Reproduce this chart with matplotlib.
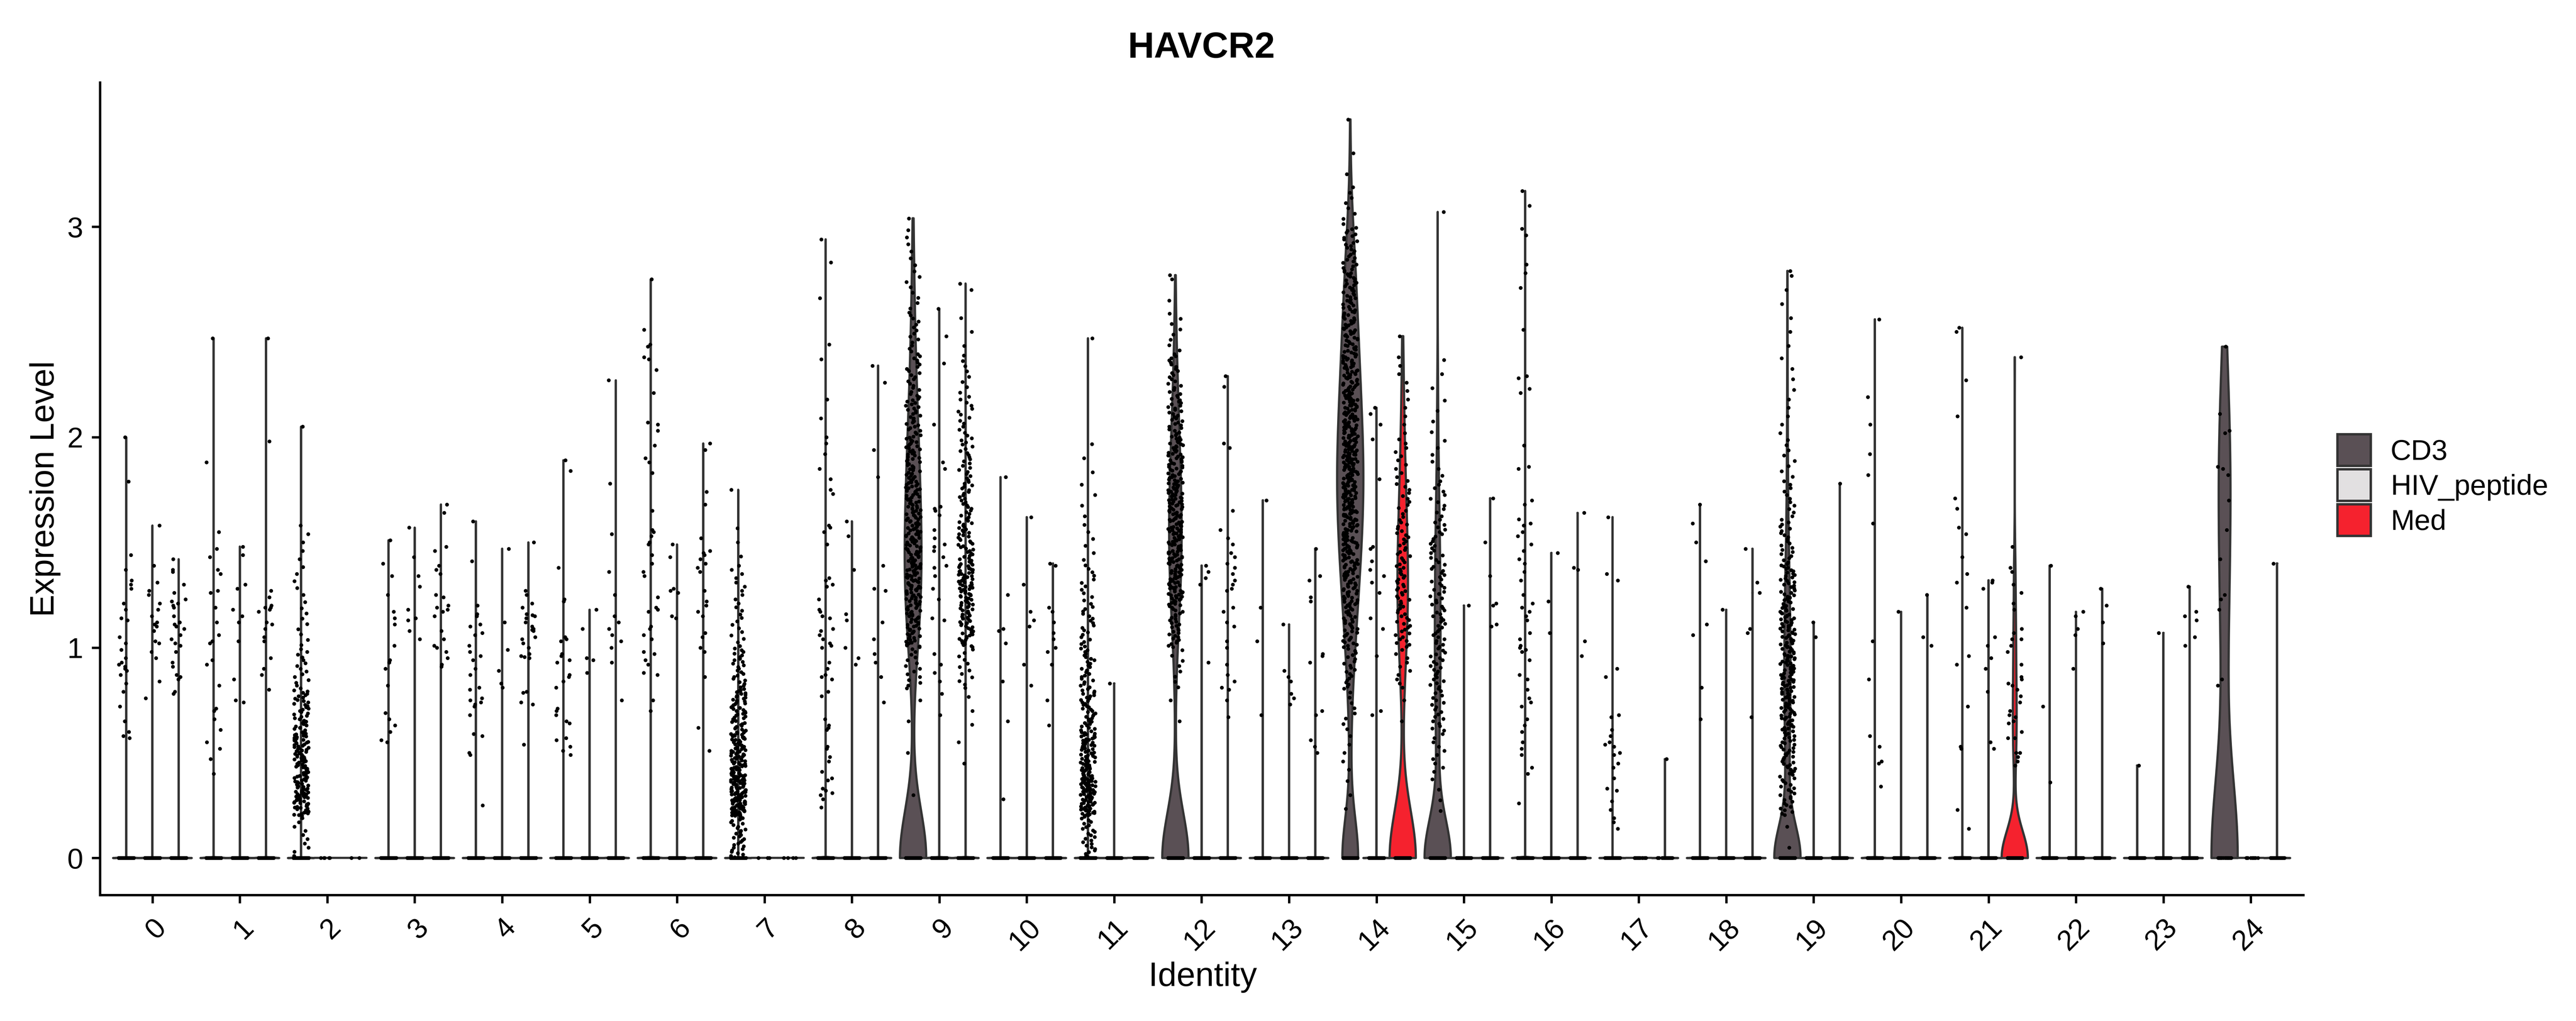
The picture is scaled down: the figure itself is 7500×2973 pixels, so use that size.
import numpy as np
import matplotlib
matplotlib.use("Agg")
import matplotlib.pyplot as plt
from matplotlib.patches import Polygon, Rectangle

plt.rcParams['font.family'] = ['Liberation Sans', 'DejaVu Sans']

# ---- data ----
clusters = [str(i) for i in range(25)]
conditions = ["CD3", "HIV_peptide", "Med"]
condition_colors = ["#5a5055", "#e2e0e1", "#f5222e"]

# cells with zero expression, per cluster
zeros_cd3 = [600, 400, 900, 300, 300, 250, 300, 1200, 400, 230, 150, 1000, 320,
             100, 100, 220, 300, 200, 120, 370, 150, 200, 100, 60, 20]
zeros_hiv = [500, 350, 5, 300, 250, 200, 200, 3, 200, 300, 150, 60, 100,
             100, 200, 80, 80, 20, 100, 100, 100, 120, 100, 60, 10]
zeros_med = [500, 350, 2, 300, 300, 250, 250, 4, 200, 800, 150, 40, 250,
             100, 145, 100, 80, 40, 100, 100, 100, 90, 100, 60, 40]

# expressing cells, read one by one (empty where the group is in a histogram below)
cd3_values = [
    [2.00, 1.79, 1.44, 1.37, 1.32, 1.30, 1.28, 1.21, 1.18, 1.14, 1.13, 1.05, 1.02, 0.99,
     0.95, 0.93, 0.92, 0.91, 0.90, 0.89, 0.87, 0.83, 0.79, 0.72, 0.65, 0.60, 0.58, 0.57],
    [2.47, 1.88, 1.55, 1.47, 1.43, 1.37, 1.35, 1.27, 1.26, 1.19, 1.12, 1.06, 1.03, 1.02,
     0.94, 0.92, 0.82, 0.71, 0.70, 0.66, 0.61, 0.55, 0.52, 0.47, 0.40],
    [],
    [1.51, 1.40, 1.34, 1.25, 1.17, 1.14, 1.11, 1.01, 0.94, 0.93, 0.90, 0.82, 0.69, 0.66,
     0.63, 0.60, 0.56, 0.55],
    [1.60, 1.41, 1.20, 1.16, 1.15, 1.11, 1.10, 1.07, 1.06, 1.01, 0.98, 0.96, 0.94, 0.90,
     0.87, 0.81, 0.80, 0.76, 0.75, 0.74, 0.73, 0.72, 0.68, 0.59, 0.58, 0.50, 0.49, 0.25],
    [1.89, 1.84, 1.38, 1.23, 1.22, 1.05, 1.04, 1.03, 0.97, 0.96, 0.94, 0.93, 0.87, 0.86,
     0.84, 0.81, 0.71, 0.70, 0.68, 0.65, 0.64, 0.57, 0.56, 0.53, 0.51, 0.49],
    [2.75, 2.51, 2.44, 2.43, 2.38, 2.37, 2.32, 2.21, 2.07, 2.06, 2.03, 1.96, 1.90, 1.88,
     1.83, 1.65, 1.56, 1.55, 1.53, 1.50, 1.49, 1.44, 1.40, 1.36, 1.34, 1.24, 1.19, 1.18,
     1.17, 1.10, 1.09, 1.06, 1.04, 0.98, 0.97, 0.94, 0.92, 0.88, 0.87, 0.75, 0.70],
    [],
    [2.94, 2.83, 2.66, 2.44, 2.37, 2.18, 2.09, 2.00, 1.97, 1.92, 1.85, 1.80, 1.75, 1.73,
     1.58, 1.57, 1.55, 1.49, 1.33, 1.32, 1.30, 1.29, 1.23, 1.18, 1.17, 1.15, 1.14, 1.09,
     1.08, 1.06, 1.04, 1.02, 1.01, 1.00, 0.93, 0.90, 0.87, 0.86, 0.85, 0.79, 0.77, 0.66,
     0.63, 0.62, 0.61, 0.53, 0.52, 0.48, 0.46, 0.41, 0.38, 0.37, 0.33, 0.32, 0.31, 0.30,
     0.28, 0.24],
    [],
    [1.81, 1.25, 1.09, 1.08, 1.02, 0.84, 0.65, 0.28],
    [],
    [],
    [1.70, 1.19, 1.03, 0.68],
    [],
    [],
    [3.17, 3.10, 2.99, 2.96, 2.82, 2.78, 2.71, 2.51, 2.29, 2.28, 2.23, 2.21, 1.96, 1.86,
     1.85, 1.70, 1.68, 1.61, 1.59, 1.58, 1.55, 1.53, 1.49, 1.46, 1.42, 1.40, 1.36, 1.32,
     1.25, 1.21, 1.19, 1.17, 1.15, 1.13, 1.07, 1.04, 1.01, 1.00, 0.99, 0.98, 0.94, 0.87,
     0.85, 0.80, 0.76, 0.74, 0.72, 0.66, 0.63, 0.60, 0.55, 0.52, 0.49, 0.43, 0.40, 0.26],
    [1.62, 1.35, 1.32, 0.90, 0.86, 0.68, 0.67, 0.61, 0.58, 0.55, 0.54, 0.53, 0.50, 0.49,
     0.45, 0.43, 0.38, 0.33, 0.32, 0.27, 0.23, 0.19, 0.17, 0.14],
    [1.68, 1.59, 1.50, 1.41, 1.11, 1.06, 0.81, 0.66],
    [],
    [2.56, 2.19, 2.06, 1.92, 1.82, 1.59, 1.03, 0.85, 0.58, 0.53, 0.46, 0.45, 0.34],
    [2.52, 2.50, 2.27, 2.10, 1.71, 1.66, 1.57, 1.54, 1.43, 1.35, 1.31, 1.19, 0.96, 0.92,
     0.72, 0.53, 0.52, 0.23, 0.14],
    [1.39, 0.72, 0.36],
    [0.44],
    [2.43, 2.11, 2.03, 2.02, 1.86, 1.85, 1.82, 1.70, 1.56, 1.42, 1.25, 1.23, 1.18, 0.85, 0.82],
]

hiv_values = [
    [1.58, 1.39, 1.31, 1.27, 1.25, 1.21, 1.18, 1.15, 1.12, 1.11, 1.10, 1.08, 1.03, 1.02,
     0.98, 0.95, 0.84, 0.76],
    [1.48, 1.44, 1.30, 1.28, 1.18, 1.15, 1.12, 1.03, 0.85, 0.75, 0.74],
    [],
    [1.57, 1.43, 1.34, 1.29, 1.18, 1.14, 1.13, 1.08, 1.04],
    [1.47, 1.12, 0.99, 0.89, 0.83, 0.81],
    [1.18, 1.09, 0.95, 0.94, 0.88],
    [1.49, 1.43, 1.28, 1.27, 1.26, 1.15, 1.14],
    [],
    [1.60, 1.53, 1.37, 1.16, 1.13, 1.00, 0.95, 0.92],
    [2.61, 2.48, 2.35, 2.06, 1.88, 1.85, 1.67, 1.66, 1.65, 1.63, 1.56, 1.52, 1.49, 1.48,
     1.46, 1.43, 1.39, 1.38, 1.34, 1.28, 1.23, 1.14, 1.13, 0.97, 0.92, 0.88, 0.84, 0.78, 0.68],
    [1.62, 1.30, 1.17, 1.13, 1.10, 0.92, 0.82],
    [0.83],
    [1.39, 1.36, 1.33, 1.30, 0.93],
    [1.11, 0.89, 0.86, 0.84, 0.78, 0.76, 0.73],
    [2.14, 2.11, 2.06, 1.99, 1.80, 1.48, 1.47, 1.41, 1.37, 1.34, 1.31, 1.26, 1.14, 1.09,
     0.96, 0.70, 0.68],
    [1.20],
    [1.45, 1.22, 1.07],
    [],
    [1.18],
    [1.12, 1.05],
    [1.17],
    [1.32, 1.31, 1.28, 1.05, 1.01, 0.95, 0.90, 0.79, 0.55, 0.52],
    [1.17, 1.15, 1.09, 1.06, 0.90],
    [1.07],
    [],
]

med_values = [
    [1.42, 1.37, 1.36, 1.30, 1.26, 1.23, 1.22, 1.21, 1.20, 1.19, 1.15, 1.12, 1.11, 1.10,
     1.09, 1.06, 1.04, 1.02, 1.01, 0.98, 0.93, 0.91, 0.87, 0.86, 0.85, 0.79, 0.78],
    [2.47, 1.98, 1.27, 1.24, 1.20, 1.19, 1.19, 1.18, 1.17, 1.12, 1.11, 1.09, 1.05, 1.03,
     0.95, 0.90, 0.87, 0.80],
    [],
    [1.68, 1.64, 1.48, 1.46, 1.39, 1.37, 1.35, 1.25, 1.24, 1.20, 1.19, 1.18, 1.17, 1.15,
     1.08, 1.04, 1.01, 1.00, 0.98, 0.95, 0.92, 0.91],
    [1.50, 1.27, 1.25, 1.21, 1.19, 1.16, 1.155, 1.15, 1.14, 1.12, 1.10, 1.09, 1.085, 1.08,
     1.05, 1.04, 1.02, 1.00, 0.97, 0.96, 0.955, 0.95, 0.79, 0.785, 0.74, 0.73, 0.54],
    [2.27, 1.78, 1.54, 1.36, 1.25, 1.15, 1.12, 1.09, 1.06, 1.03, 1.00, 0.93, 0.75],
    [1.97, 1.94, 1.74, 1.68, 1.52, 1.46, 1.45, 1.44, 1.42, 1.40, 1.38, 1.36, 1.27, 1.22,
     1.20, 1.17, 1.15, 1.07, 1.05, 1.00, 0.98, 0.86, 0.62, 0.51],
    [],
    [2.34, 2.26, 1.94, 1.81, 1.39, 1.28, 1.27, 1.12, 1.04, 0.97, 0.93, 0.86, 0.74],
    [],
    [1.40, 1.39, 1.19, 1.17, 1.12, 1.07, 1.04, 1.00, 0.98, 0.92, 0.75, 0.63],
    [],
    [2.29, 2.24, 1.97, 1.95, 1.65, 1.56, 1.52, 1.49, 1.45, 1.43, 1.40, 1.38, 1.35, 1.32,
     1.30, 1.28, 1.27, 1.19, 1.17, 1.12, 1.10, 1.03, 1.00, 0.92, 0.87, 0.84, 0.81, 0.80,
     0.75, 0.67],
    [1.47, 1.34, 1.32, 1.24, 1.22, 0.97, 0.96, 0.93, 0.70, 0.68, 0.56, 0.53, 0.50],
    [],
    [1.71, 1.50, 1.34, 1.21, 1.20, 1.11, 1.10],
    [1.64, 1.38, 1.37, 1.03, 0.96],
    [0.47],
    [1.47, 1.31, 1.26, 1.09, 1.07, 0.67],
    [1.78],
    [1.25, 1.05, 1.01],
    [2.38, 1.48, 1.38, 1.36, 1.30, 1.26, 1.21, 1.18, 1.09, 1.07, 1.04, 1.04, 1.01, 0.98,
     0.92, 0.86, 0.85, 0.83, 0.82, 0.80, 0.77, 0.74, 0.70, 0.68, 0.67, 0.65, 0.64, 0.60,
     0.57, 0.57, 0.50, 0.50, 0.48, 0.46, 0.44],
    [1.28, 1.20, 1.12, 1.02],
    [1.29, 1.17, 1.15, 1.13, 1.05, 1.01],
    [1.40],
]

# crowded groups: cell counts per 0.2-wide expression bin (from 0) and the top cell
bin_width = 0.2
cd3_hist = {
    2: ([10, 70, 60, 35, 15, 8, 6, 5], 2.05),
    7: ([30, 110, 70, 45, 25, 12, 10, 3], 1.75),
    9: ([0, 1, 1, 2, 15, 45, 60, 55, 50, 40, 30, 20, 14, 8, 6], 3.04),
    11: ([25, 80, 60, 35, 25, 18, 12, 6, 4, 3], 2.47),
    12: ([0, 0, 0, 2, 8, 30, 55, 65, 60, 45, 30, 20, 8, 2], 2.77),
    14: ([0, 3, 5, 8, 20, 35, 50, 65, 75, 75, 65, 55, 45, 35, 25, 8, 2], 3.51),
    15: ([0, 4, 10, 18, 22, 22, 20, 18, 12, 6, 4, 3], 3.07),
    19: ([2, 25, 35, 45, 50, 45, 35, 20, 12, 8, 5, 4, 3, 3], 2.79),
}
hiv_hist = {}
med_hist = {
    9: ([0, 0, 2, 3, 12, 40, 55, 35, 25, 20, 14, 8, 3, 1], 2.73),
    14: ([0, 0, 0, 2, 10, 22, 25, 20, 14, 10, 5, 5], 2.48),
}

# ---- helpers ----
OUTLINE = "#333333"
DODGE = [-0.3, 0.0, 0.3]
HALF_WIDTH = 0.15
JITTER = 0.085
jitter_rng = np.random.default_rng(3)   # horizontal jitter only, like geom_jitter


def expression(values, hist):
    """Expressing cells of one group: listed ones, or spread over their bins."""
    if hist is None:
        return np.array(values, dtype=float)
    counts, top = hist
    out = [top]
    for i, k in enumerate(counts):
        lo = i * bin_width
        out += [lo + bin_width * (j + 0.5) / k for j in range(k)]
    return np.array(out)


def bw_nrd0(x):
    # R's bw.nrd0; Seurat's tiny noise on the zeros makes the IQR ~1e-5 when
    # more than three quarters of the cells are zero
    hi = np.std(x, ddof=1)
    q75, q25 = np.percentile(x, [75, 25])
    lo = min(hi, (q75 - q25) / 1.34)
    if lo <= 0:
        lo = 1e-5
    return 0.9 * lo * len(x) ** -0.2


def violin_shape(x):
    grid = np.linspace(x.min(), x.max(), 512)
    bw = bw_nrd0(x)
    u, c = np.unique(x, return_counts=True)
    z = (grid[:, None] - u[None, :]) / bw
    dens = (np.exp(-0.5 * z ** 2) * c[None, :]).sum(axis=1)
    return grid, dens / dens.max()


fig = plt.figure(figsize=(25, 9.91), dpi=300, facecolor="white")
ax = fig.add_axes([0.0388, 0.12344, 0.85533, 0.79583])

groups = [
    (zeros_cd3, cd3_values, cd3_hist),
    (zeros_hiv, hiv_values, hiv_hist),
    (zeros_med, med_values, med_hist),
]

px, py = [], []
for ci in range(len(clusters)):
    for gi, (zeros, values, hists) in enumerate(groups):
        xc = ci + DODGE[gi]
        pos = expression(values[ci], hists.get(ci))
        data = np.concatenate([np.zeros(zeros[ci]), pos])
        if len(pos) == 0:
            ax.plot([xc - HALF_WIDTH, xc + HALF_WIDTH], [0, 0], color=OUTLINE,
                    lw=1.54, solid_capstyle="round", zorder=2)
        else:
            grid, w = violin_shape(data)
            hw = w * HALF_WIDTH
            xs = np.concatenate([xc - hw, (xc + hw)[::-1]])
            ys = np.concatenate([grid, grid[::-1]])
            ax.add_patch(Polygon(np.column_stack([xs, ys]), closed=True,
                                 facecolor=condition_colors[gi], edgecolor=OUTLINE,
                                 lw=1.54, joinstyle="round", zorder=2))
        px.append(xc + jitter_rng.uniform(-JITTER, JITTER, len(data)))
        py.append(data)

ax.scatter(np.concatenate(px), np.concatenate(py), s=7, c="black",
           linewidths=0, zorder=3)

ax.set_xlim(-0.6, 24.6)
ax.set_ylim(-0.1755, 3.6855)
ax.set_yticks([0, 1, 2, 3])
ax.set_xticks(range(len(clusters)))
ax.set_xticklabels(clusters, rotation=45, ha="right", va="top",
                   rotation_mode="anchor")
for s in ["top", "right"]:
    ax.spines[s].set_visible(False)
for s in ["left", "bottom"]:
    ax.spines[s].set_linewidth(1.65)
    ax.spines[s].set_color("black")
ax.tick_params(axis="both", length=5.7, width=1.65, color="black",
               labelsize=20, labelcolor="black")
ax.tick_params(axis="y", pad=6)
ax.tick_params(axis="x", pad=7.5)

W, H = 7500.0, 2973.0
fig.text(3498 / W, 1 - 168 / H, "HAVCR2", fontsize=25.5, fontweight="bold",
         ha="center", va="baseline")
fig.text(3502 / W, 1 - 2871 / H, "Identity", fontsize=23.5,
         ha="center", va="baseline")
fig.text(157 / W, 1 - 1423 / H, "Expression Level", fontsize=23.5, rotation=90,
         rotation_mode="anchor", ha="center", va="baseline")

# legend keys
for i, (name, col) in enumerate(zip(conditions, condition_colors)):
    top = 1264 + i * 102
    fig.add_artist(Rectangle((6804.5 / W, 1 - (top + 92) / H), 97 / W, 92 / H,
                             transform=fig.transFigure, facecolor=col,
                             edgecolor=OUTLINE, lw=1.68))
    fig.text(6960 / W, 1 - (top + 46 + 29) / H, name, fontsize=20,
             ha="left", va="baseline")

fig.savefig("out.png", dpi=300, facecolor="white")
